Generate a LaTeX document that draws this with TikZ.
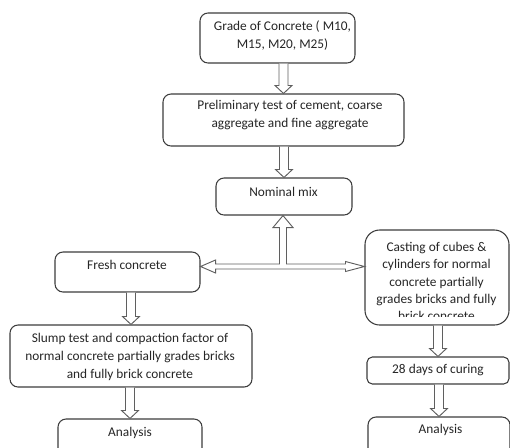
\documentclass[tikz,border=0pt]{standalone}
\usepackage{fontspec}
\setmainfont{Carlito}
\usetikzlibrary{calc}

\definecolor{boxgray}{RGB}{60,60,60}
\definecolor{arrowgray}{RGB}{95,95,95}

\tikzset{
  flowbox/.style={draw=boxgray, line width=0.8, fill=white, rounded corners=6pt, inner sep=0},
  flowtext/.style={align=center, inner sep=0, text=black!85, font=\fontsize{10}{13.5}\selectfont},
  hollowarrow/.style={draw=arrowgray, line width=0.7, fill=white, line join=miter},
}

% hollow block arrow pointing down from the bottom of #1 to the top of #2
\newcommand{\blockdown}[2]{%
  \draw [hollowarrow] ($(#1.south -| #2.north)+(-4.5,0)$) -- ($(#2.north)+(-4.5,-8)$)
    -- ($(#2.north)+(-8.5,-8)$) -- (#2.north) -- ($(#2.north)+(8.5,-8)$)
    -- ($(#2.north)+(4.5,-8)$) -- ($(#1.south -| #2.north)+(4.5,0)$);%
}

\begin{document}
\begin{tikzpicture}[x=0.75pt,y=0.75pt,yscale=-1,xscale=1]
\useasboundingbox (0,0) rectangle (510,447);
\clip (0,0) rectangle (510,447);

%Rounded Rect [id:grade]
\node (grade) [flowbox, minimum width=116.25pt, minimum height=37.5pt] at (277.5,38) {};
%Rounded Rect [id:prelim]
\node (prelim) [flowbox, minimum width=180.75pt, minimum height=39pt] at (283.5,120) {};
%Rounded Rect [id:nominal]
\node (nominal) [flowbox, minimum width=102pt, minimum height=27.75pt] at (284,196.5) {};
%Rounded Rect [id:fresh]
\node (fresh) [flowbox, minimum width=108.75pt, minimum height=30pt] at (127.5,272) {};
%Rounded Rect [id:slump]
\node (slump) [flowbox, minimum width=181.5pt, minimum height=46.5pt] at (131,356) {};
%Rounded Rect [id:casting]
\node (casting) [flowbox, rounded corners=11pt, minimum width=108pt, minimum height=71.25pt] at (437,277.5) {};
%Rounded Rect [id:days]
\node (days) [flowbox, rounded corners=4pt, minimum width=106.5pt, minimum height=20.25pt] at (438,370.5) {};
%Rounded Rect [id:analysisL]
\node (analysisL) [flowbox, minimum width=108pt, minimum height=31.5pt] at (130,440) {};
%Rounded Rect [id:analysisR]
\node (analysisR) [flowbox, minimum width=106.5pt, minimum height=32.25pt] at (439,438.5) {};

%Block Arrows
\blockdown{grade}{prelim}
\blockdown{prelim}{nominal}
\blockdown{fresh}{slump}
\blockdown{slump}{analysisL}
\blockdown{casting}{days}
\blockdown{days}{analysisR}

%Block Arrow, three ways [id:junction]
\coordinate (J) at (283,266.5);
\coordinate (tipL) at (fresh.east |- J);
\coordinate (tipR) at (casting.west |- J);
\coordinate (tipU) at (J |- nominal.south);
\draw [hollowarrow] (tipL) -- ($(tipL)+(15,-6.5)$) -- ($(tipL)+(15,-2.5)$) -- ($(J)+(-3.5,-2.5)$)
  -- ($(tipU)+(-3.5,12)$) -- ($(tipU)+(-10,12)$) -- (tipU) -- ($(tipU)+(10,12)$) -- ($(tipU)+(3.5,12)$)
  -- ($(J)+(3.5,-2.5)$) -- ($(tipR)+(-19,-2.5)$) -- ($(tipR)+(-19,-5)$) -- (tipR)
  -- ($(tipR)+(-19,5)$) -- ($(tipR)+(-19,2.5)$) -- ($(tipL)+(15,2.5)$) -- ($(tipL)+(15,6.5)$) -- cycle;

% Text Node
\node (gradetxt) [flowtext] at (282.5,36) {Grade of Concrete ( M10,\\M15, M20, M25)};
% Text Node
\node (prelimtxt) [flowtext] at (290,115) {Preliminary test of cement, coarse\\aggregate and fine aggregate};
% Text Node
\node (nominaltxt) [flowtext] at (283.5,192) {Nominal mix};
% Text Node
\node (freshtxt) [flowtext] at (127,265) {Fresh concrete};
% Text Node
\node (slumptxt) [flowtext] at (130,357) {Slump test and compaction factor of\\normal concrete partially grades bricks\\and fully brick concrete};
% Text Node, cut off by its box
\begin{scope}
\clip (365,230) rectangle (510,316);
\node (castingtxt) [flowtext, font=\fontsize{10}{13}\selectfont] at (436.5,281.5) {Casting of cubes \&\\cylinders for normal\\concrete partially\\grades bricks and fully\\brick concrete};
\end{scope}
% Text Node
\node (daystxt) [flowtext] at (438,370) {28 days of curing};
% Text Node
\node (analysisLtxt) [flowtext] at (130,433) {Analysis};
% Text Node
\node (analysisRtxt) [flowtext] at (440.5,430) {Analysis};

\end{tikzpicture}
\end{document}
